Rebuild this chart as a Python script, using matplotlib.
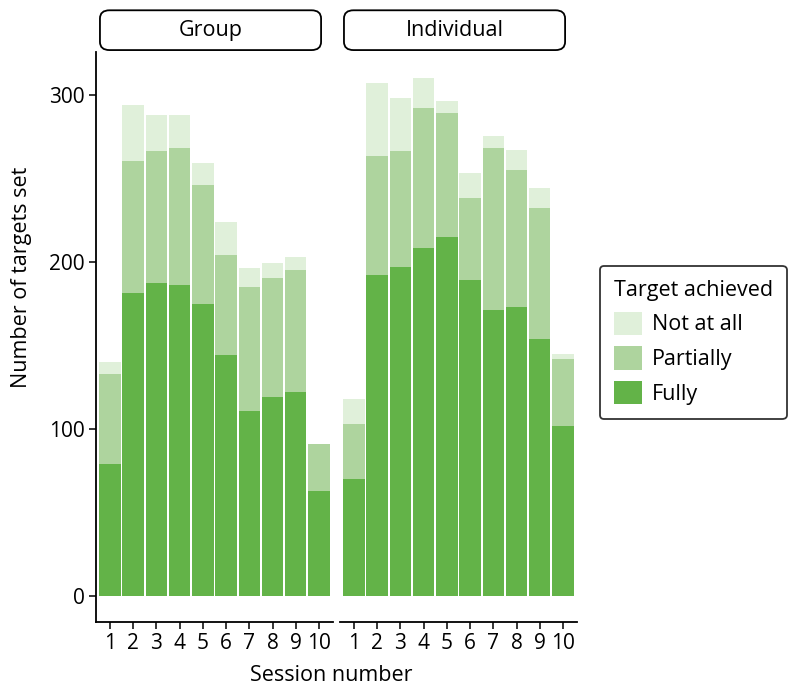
import matplotlib.pyplot as plt
import numpy as np
from matplotlib.patches import Patch, FancyBboxPatch

plt.rcParams['font.family'] = ['Open Sans', 'DejaVu Sans']

sessions = np.arange(1, 11)
session_labels = [str(s) for s in sessions]

# Group panel: counts per session
group_fully = [79, 181, 187, 186, 175, 144, 111, 119, 122, 63]
group_partially = [54, 79, 79, 82, 71, 60, 74, 71, 73, 28]
group_not_at_all = [7, 34, 22, 20, 13, 20, 11, 9, 8, 0]

# Individual panel: counts per session
ind_fully = [70, 192, 197, 208, 215, 189, 171, 173, 154, 102]
ind_partially = [33, 71, 69, 84, 74, 49, 97, 82, 78, 40]
ind_not_at_all = [15, 44, 32, 18, 7, 15, 7, 12, 12, 3]

panels = ["Group", "Individual"]
categories = ["Not at all", "Partially", "Fully"]
colors = {"Fully": "#63B348", "Partially": "#AED49E", "Not at all": "#E0F0DA"}

fig = plt.figure(figsize=(7.92, 6.86), dpi=100)

ax_w = 0.2992
ax_b = 0.0933
ax_h = 0.831
lefts = [0.1212, 0.4293]
data = [(group_fully, group_partially, group_not_at_all),
        (ind_fully, ind_partially, ind_not_at_all)]

for i, (name, (fu, pa, na)) in enumerate(zip(panels, data)):
    ax = fig.add_axes([lefts[i], ax_b, ax_w, ax_h])
    fu = np.array(fu)
    pa = np.array(pa)
    na = np.array(na)
    ax.bar(sessions, fu, width=0.92, color=colors["Fully"], linewidth=0)
    ax.bar(sessions, pa, width=0.92, bottom=fu, color=colors["Partially"], linewidth=0)
    ax.bar(sessions, na, width=0.92, bottom=fu + pa, color=colors["Not at all"], linewidth=0)
    ax.set_xlim(0.4, 10.6)
    ax.set_ylim(-15.5, 325.5)
    ax.set_xticks(sessions)
    ax.set_xticklabels(session_labels)
    ax.set_yticks([0, 100, 200, 300])
    ax.tick_params(axis='both', labelsize=15, length=5, width=1.1, color='black', pad=3)
    for s in ['top', 'right']:
        ax.spines[s].set_visible(False)
    ax.spines['bottom'].set_linewidth(1.3)
    ax.spines['left'].set_linewidth(1.3)
    if i == 1:
        ax.spines['left'].set_visible(False)
        ax.tick_params(axis='y', left=False, labelleft=False)

    # rounded strip label above panel
    x0 = lefts[i] + 0.005
    strip = FancyBboxPatch((x0, 0.927), ax_w - 0.02, 0.058,
                           boxstyle="round,pad=0,rounding_size=0.012",
                           transform=fig.transFigure, facecolor='white',
                           edgecolor='black', linewidth=1.3)
    fig.patches.append(strip)
    fig.text(x0 + (ax_w - 0.02) / 2, 0.9555, name, ha='center', va='center', fontsize=15.5)

fig.text(0.027, 0.595, "Number of targets set", rotation=90, ha='center', va='center', fontsize=15.5)
fig.text(0.418, 0.016, "Session number", ha='center', va='center', fontsize=15.5)

handles = [Patch(facecolor=colors[c], edgecolor='none', label=c) for c in categories]
leg = fig.legend(handles=handles, title="Target achieved", loc='center left',
                 bbox_to_anchor=(0.757, 0.501), fontsize=15.5, title_fontsize=15.5,
                 frameon=True, fancybox=True, edgecolor='black',
                 handlelength=1.3, handleheight=1.3, labelspacing=0.5,
                 handletextpad=0.5, borderpad=0.65, borderaxespad=0)
leg._legend_box.align = "left"
leg.get_frame().set_linewidth(1.3)

fig.savefig("out.png", dpi=100)
